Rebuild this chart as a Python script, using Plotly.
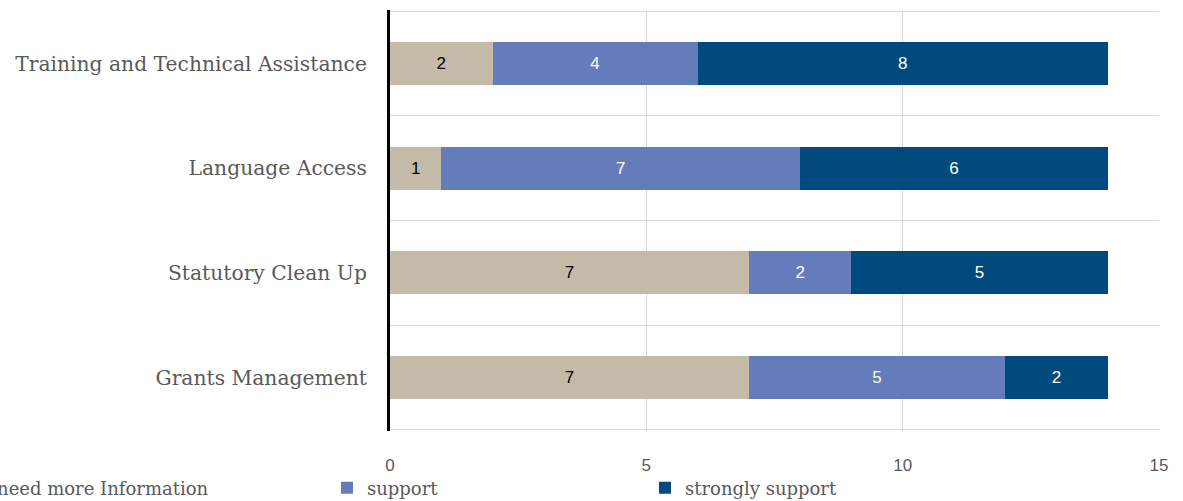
import plotly.graph_objects as go

categories = ["Grants Management", "Statutory Clean Up", "Language Access", "Training and Technical Assistance"]
need_more_info = [7, 7, 1, 2]
support = [5, 2, 7, 4]
strongly_support = [2, 5, 6, 8]
x_ticks = [0, 5, 10, 15]

series = [
    ("need more Information", need_more_info, "#C3BBA7", "black", "legend"),
    ("support", support, "#647CB9", "white", "legend2"),
    ("strongly support", strongly_support, "#004A7E", "white", "legend3"),
]

fig = go.Figure()
for name, vals, color, tcolor, lg in series:
    fig.add_trace(go.Bar(
        y=categories, x=vals, name=name, orientation="h",
        marker=dict(color=color, line=dict(width=0)),
        text=[str(v) for v in vals], textposition="inside", insidetextanchor="middle",
        textfont=dict(family="Liberation Sans, Arial", size=17, color=tcolor),
        legend=lg, showlegend=True,
    ))

legend_font = dict(family="DejaVu Serif", size=18, color="#595959")
ly = 0.026
common = dict(yref="container", y=ly, xanchor="left", yanchor="middle",
              font=legend_font, bgcolor="rgba(0,0,0,0)")
fig.update_layout(
    showlegend=True,
    barmode="stack",
    bargap=0.59,
    width=1183, height=501,
    margin=dict(l=390, r=24, t=10, b=70, autoexpand=False),
    plot_bgcolor="white", paper_bgcolor="white",
    uniformtext=dict(mode="show", minsize=10),
    legend=dict(xref="paper", x=-0.563, **common),
    legend2=dict(xref="container", x=0.2764, **common),
    legend3=dict(xref="container", x=0.5452, **common),
    xaxis=dict(
        range=[0, 15], tickvals=x_ticks, ticktext=[str(t) for t in x_ticks],
        showgrid=True, gridcolor="#D9D9D9", gridwidth=1.3,
        zeroline=False, showline=False, ticks="",
        tickfont=dict(family="Liberation Sans, Arial", size=17, color="#595959"),
        ticklabelstandoff=22,
    ),
    yaxis=dict(
        type="category", categoryorder="array", categoryarray=categories,
        range=[-0.51, 3.51],
        tickson="boundaries", showgrid=True, gridcolor="#D9D9D9", gridwidth=1.3,
        showline=True, linecolor="black", linewidth=3, ticks="",
        tickfont=dict(family="DejaVu Serif", size=20.3, color="#595959"),
        ticklabelstandoff=16,
    ),
)

fig.write_html("out.html")
